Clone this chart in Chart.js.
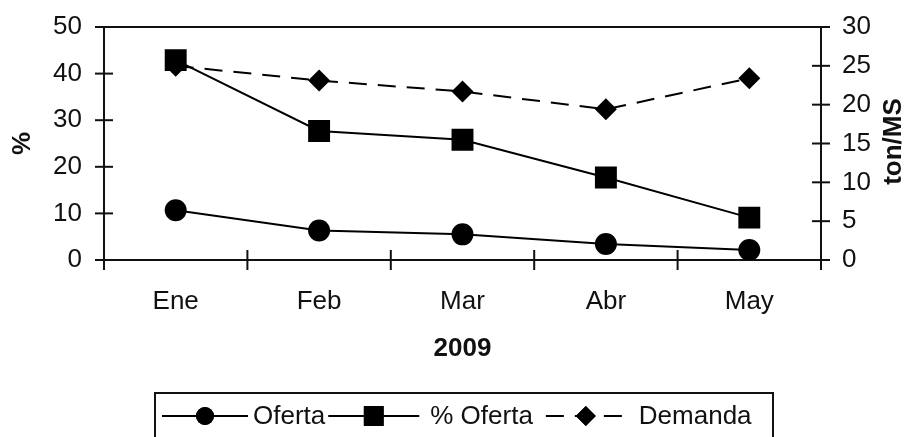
<!DOCTYPE html>
<html>
<head>
<meta charset="utf-8">
<script src="https://cdn.jsdelivr.net/npm/chart.js@4.4.1/dist/chart.umd.min.js"></script>
<style>
  body { margin: 0; background: #fff; }
</style>
</head>
<body>
<canvas id="chart" width="909" height="437"></canvas>
<script>
// Datos
const meses = ['Ene', 'Feb', 'Mar', 'Abr', 'May'];
const oferta = [6.4, 3.8, 3.3, 2.05, 1.3];          // ton/MS (eje derecho)
const porcentajeOferta = [42.9, 27.7, 25.8, 17.7, 9.1]; // % (eje izquierdo)
const demanda = [25.0, 23.1, 21.7, 19.4, 23.4];     // ton/MS (eje derecho)
const ticksPorcentaje = [0, 10, 20, 30, 40, 50];
const ticksTon = [0, 5, 10, 15, 20, 25, 30];

const FONT = 'Arial, "Liberation Sans", sans-serif';
const INK = '#111';

// Marcas de eje que cruzan la línea, borde superior, título derecho y leyenda
const extrasPlugin = {
    id: 'extras',
    afterDraw(chart) {
        const ctx = chart.ctx;
        const area = chart.chartArea;
        const x = chart.scales.x;
        const y = chart.scales.y;
        const y1 = chart.scales.y1;

        ctx.save();
        ctx.strokeStyle = INK;
        ctx.lineWidth = 2;

        // borde superior
        ctx.beginPath();
        ctx.moveTo(area.left, area.top);
        ctx.lineTo(area.right, area.top);
        ctx.stroke();

        // marcas eje izquierdo
        y.ticks.forEach(function (t, i) {
            const py = y.getPixelForTick(i);
            ctx.beginPath();
            ctx.moveTo(area.left - 9, py);
            ctx.lineTo(area.left + 9, py);
            ctx.stroke();
        });

        // marcas eje derecho
        y1.ticks.forEach(function (t, i) {
            const py = y1.getPixelForTick(i);
            ctx.beginPath();
            ctx.moveTo(area.right - 9, py);
            ctx.lineTo(area.right + 9, py);
            ctx.stroke();
        });

        // marcas eje x entre categorías
        for (let i = 0; i <= meses.length; i++) {
            const px = x.getPixelForValue(i - 0.5);
            ctx.beginPath();
            ctx.moveTo(px, area.bottom - 10);
            ctx.lineTo(px, area.bottom + 10);
            ctx.stroke();
        }

        // título eje derecho
        ctx.fillStyle = INK;
        ctx.font = 'bold 26px ' + FONT;
        ctx.textAlign = 'center';
        ctx.textBaseline = 'middle';
        ctx.translate(894, (area.top + area.bottom) / 2 - 2);
        ctx.rotate(-Math.PI / 2);
        ctx.fillText('ton/MS', 0, 0);
        ctx.restore();

        // leyenda con caja
        ctx.save();
        ctx.strokeStyle = INK;
        ctx.lineWidth = 2;
        ctx.strokeRect(155, 393, 618, 60);

        const legendY = 416;
        const lineLen = [86, 91, 80];
        const gapBefore = [5, 11, 13];
        const gapAfter = [3, 13, 0];
        let cx = 162;
        ctx.font = '26px ' + FONT;
        ctx.textBaseline = 'middle';
        ctx.textAlign = 'left';

        chart.data.datasets.forEach(function (ds, i) {
            const len = lineLen[i];
            ctx.save();
            ctx.setLineDash(ds.borderDash || []);
            ctx.strokeStyle = ds.borderColor;
            ctx.lineWidth = 2;
            ctx.beginPath();
            ctx.moveTo(cx, legendY);
            ctx.lineTo(cx + len, legendY);
            ctx.stroke();
            ctx.restore();

            ctx.fillStyle = '#000';
            Chart.helpers.drawPoint(ctx, {
                pointStyle: ds.pointStyle,
                radius: ds.legendRadius,
                borderWidth: 0
            }, cx + len / 2, legendY);
            ctx.fill();

            cx += len + gapBefore[i];
            ctx.fillStyle = INK;
            ctx.fillText(ds.label, cx, legendY + 1);
            cx += ctx.measureText(ds.label).width + gapAfter[i];
        });
        ctx.restore();
    }
};

// ancho fijo de los ejes verticales, sin relleno extra arriba/abajo
function fijarEjeVertical(ancho) {
    return function (scale) {
        scale.width = ancho;
        scale.paddingTop = 0;
        scale.paddingBottom = 0;
    };
}

new Chart(document.getElementById('chart'), {
    type: 'line',
    data: {
        labels: meses,
        datasets: [
            {
                label: 'Oferta',
                data: oferta,
                yAxisID: 'y1',
                borderColor: '#000',
                backgroundColor: '#000',
                borderWidth: 2,
                pointStyle: 'circle',
                pointRadius: 11,
                legendRadius: 9,
                pointBackgroundColor: '#000',
                pointBorderWidth: 0,
                tension: 0
            },
            {
                label: '% Oferta',
                data: porcentajeOferta,
                yAxisID: 'y',
                borderColor: '#000',
                backgroundColor: '#000',
                borderWidth: 2,
                pointStyle: 'rect',
                pointRadius: 15.5,
                legendRadius: 14,
                pointBackgroundColor: '#000',
                pointBorderWidth: 0,
                tension: 0
            },
            {
                label: 'Demanda',
                data: demanda,
                yAxisID: 'y1',
                borderColor: '#000',
                backgroundColor: '#000',
                borderWidth: 2,
                borderDash: [18, 11],
                pointStyle: 'rectRot',
                pointRadius: 11,
                legendRadius: 10,
                pointBackgroundColor: '#000',
                pointBorderWidth: 0,
                tension: 0
            }
        ]
    },
    options: {
        responsive: false,
        animation: false,
        devicePixelRatio: 1,
        layout: { padding: { top: 27, left: 0, right: 0, bottom: 67 } },
        plugins: {
            legend: { display: false },
            tooltip: { enabled: false }
        },
        scales: {
            x: {
                type: 'category',
                offset: true,
                grid: { display: false, drawTicks: false },
                border: { display: true, color: INK, width: 2 },
                ticks: { color: INK, font: { family: FONT, size: 26 }, padding: 26 },
                title: {
                    display: true,
                    text: '2009',
                    color: INK,
                    font: { family: FONT, size: 26, weight: 'bold' },
                    padding: { top: 0, bottom: 6 }
                },
                afterFit: function (scale) { scale.height = 110; }
            },
            y: {
                position: 'left',
                min: 0,
                max: 50,
                grid: { display: false, drawTicks: false },
                border: { display: true, color: INK, width: 2 },
                afterBuildTicks: function (scale) {
                    scale.ticks = ticksPorcentaje.map(function (v) { return { value: v }; });
                },
                ticks: { color: INK, font: { family: FONT, size: 26 }, padding: 22 },
                title: {
                    display: true,
                    text: '%',
                    color: INK,
                    font: { family: FONT, size: 26, weight: 'bold' },
                    padding: { top: 7, bottom: 0 }
                },
                afterFit: fijarEjeVertical(104)
            },
            y1: {
                position: 'right',
                min: 0,
                max: 30,
                grid: { display: false, drawTicks: false },
                border: { display: true, color: INK, width: 2 },
                afterBuildTicks: function (scale) {
                    scale.ticks = ticksTon.map(function (v) { return { value: v }; });
                },
                ticks: { color: INK, font: { family: FONT, size: 26 }, padding: 21 },
                afterFit: fijarEjeVertical(88)
            }
        }
    },
    plugins: [extrasPlugin]
});
</script>
</body>
</html>
